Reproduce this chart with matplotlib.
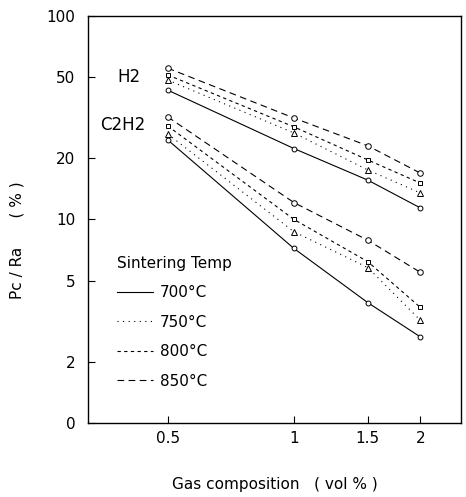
import matplotlib
matplotlib.use("Agg")
import matplotlib.pyplot as plt

# Gas composition (vol %)
gas = [0.5, 1.0, 1.5, 2.0]

# Pc / Ra (%), per sintering temperature
temps = ["700°C", "750°C", "800°C", "850°C"]
h2 = {
    "700°C": [43.2, 22.3, 15.6, 11.4],
    "750°C": [48.4, 26.6, 17.5, 13.5],
    "800°C": [51.3, 28.5, 19.6, 15.1],
    "850°C": [55.4, 31.5, 23.0, 16.9],
}
c2h2 = {
    "700°C": [24.6, 7.2, 3.9, 2.65],
    "750°C": [26.3, 8.7, 5.8, 3.2],
    "800°C": [28.8, 10.0, 6.2, 3.7],
    "850°C": [31.9, 12.1, 7.9, 5.5],
}

x_ticks = [0.5, 1, 1.5, 2]
x_ticklabels = ["0.5", "1", "1.5", "2"]
y_ticks = [1, 2, 5, 10, 20, 50, 100]
y_ticklabels = ["0", "2", "5", "10", "20", "50", "100"]

styles = {
    "700°C": dict(ls="-", marker="o", ms=3.5),
    "750°C": dict(ls=(0, (1, 4)), marker="^", ms=4),
    "800°C": dict(ls=(0, (3, 3)), marker="s", ms=3.5),
    "850°C": dict(ls=(0, (6, 4)), marker="o", ms=4),
}

plt.rcParams["font.family"] = "DejaVu Sans"
fig = plt.figure(figsize=(4.66, 4.97), dpi=100)
ax = fig.add_axes([0.189, 0.149, 0.800, 0.819])

for t in temps:
    st = styles[t]
    ax.plot(gas, h2[t], color="black", lw=0.8, ls=st["ls"], marker=st["marker"],
            ms=st["ms"], mfc="white", mec="black", mew=0.7, label=t)
    ax.plot(gas, c2h2[t], color="black", lw=0.8, ls=st["ls"], marker=st["marker"],
            ms=st["ms"], mfc="white", mec="black", mew=0.7)

ax.set_xscale("log")
ax.set_yscale("log")
ax.set_xlim(0.323, 2.5)
ax.set_ylim(1, 100)
ax.set_xticks(x_ticks)
ax.set_xticklabels(x_ticklabels)
ax.set_yticks(y_ticks)
ax.set_yticklabels(y_ticklabels)
ax.minorticks_off()
ax.tick_params(direction="in", length=5, labelsize=11, width=0.8)
ax.tick_params(axis="x", pad=6)
ax.tick_params(axis="y", pad=9)
for s in ax.spines.values():
    s.set_linewidth(1.0)

ax.text(0.405, 50, "H2", fontsize=12, ha="center", va="center")
ax.text(0.39, 29, "C2H2", fontsize=12, ha="center", va="center")

ax.set_xlabel("Gas composition   ( vol % )", fontsize=11, labelpad=22)
ax.set_ylabel("Pc / Ra      ( % )", fontsize=11)
ax.yaxis.set_label_coords(-0.17, 0.45)

handles, labels = ax.get_legend_handles_labels()
leg = ax.legend(handles, labels, title="Sintering Temp", loc="upper left",
                bbox_to_anchor=(0.04, 0.445), frameon=False, fontsize=11,
                title_fontsize=11, labelspacing=0.95, handlelength=2.4,
                handletextpad=0.4, alignment="left")
for h in leg.legend_handles:
    h.set_marker("")

fig.savefig("out.png", dpi=100)
